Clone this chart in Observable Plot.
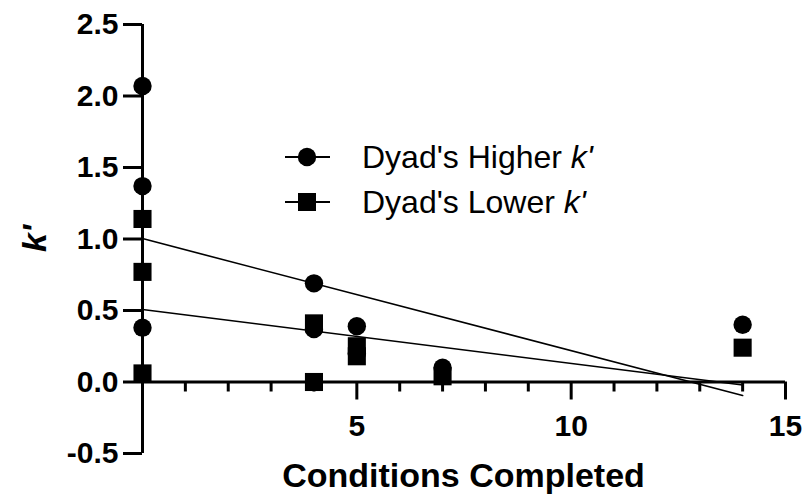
<!DOCTYPE html>
<html>
<head>
<meta charset="utf-8">
<script src="https://cdn.jsdelivr.net/npm/d3@7"></script>
<script src="https://cdn.jsdelivr.net/npm/@observablehq/plot@0.6"></script>
<style>
  html, body { margin: 0; padding: 0; background: #fff; }
  #chart svg { display: block; }
</style>
</head>
<body>
<div id="chart"></div>
<script>
// ---- data ----
const xHigher = [0, 0, 0, 4, 4, 5, 5, 7, 14];
const yHigher = [2.07, 1.37, 0.38, 0.69, 0.37, 0.39, 0.20, 0.10, 0.40];
const xLower  = [0, 0, 0, 4, 4, 5, 5, 7, 14];
const yLower  = [1.14, 0.77, 0.06, 0.41, 0.00, 0.25, 0.18, 0.04, 0.24];

const yTicks = [-0.5, 0, 0.5, 1, 1.5, 2, 2.5];
const xMinorTicks = [1, 2, 3, 4, 6, 7, 8, 9, 11, 12, 13, 14];
const xMajorTicks = [5, 10, 15];

const seriesNames = ["Dyad's Higher", "Dyad's Lower"];
const xTitle = "Conditions Completed";
const yTitle = "k'";

// ---- layout ----
const W = 806, H = 500;
const mL = 142, mR = 21, mT = 24, mB = 47;
const xDomain = [0, 15], yDomain = [-0.5, 2.5];
const pxPerX = (W - mL - mR) / (xDomain[1] - xDomain[0]);
const pxPerY = (H - mT - mB) / (yDomain[1] - yDomain[0]);
const FONT = "'Liberation Sans', Arial, Helvetica, sans-serif";

const higher = xHigher.map((x, i) => ({x, y: yHigher[i]}));
const lower = xLower.map((x, i) => ({x, y: yLower[i]}));

const plot = Plot.plot({
  width: W,
  height: H,
  marginLeft: mL,
  marginRight: mR,
  marginTop: mT,
  marginBottom: mB,
  x: {domain: xDomain, axis: null},
  y: {domain: yDomain, axis: null},
  style: {fontFamily: FONT, fontSize: "30px", fontWeight: "bold", color: "black", background: "white", overflow: "visible"},
  marks: [
    // regression lines
    Plot.linearRegressionY(higher, {x: "x", y: "y", ci: 0, stroke: "black", strokeWidth: 1.6}),
    Plot.linearRegressionY(lower, {x: "x", y: "y", ci: 0, stroke: "black", strokeWidth: 1.6}),
    // y axis
    Plot.ruleX([0], {y1: yDomain[0], y2: yDomain[1], stroke: "black", strokeWidth: 3}),
    Plot.ruleY(yTicks, {y: d => d, x1: 0, x2: -19 / pxPerX, stroke: "black", strokeWidth: 3}),
    Plot.text(yTicks, {y: d => d, x: 0, dx: -24, textAnchor: "end", text: d => d.toFixed(1),
      fontSize: 30, fontWeight: "bold", fill: "black"}),
    // x axis at y = 0
    Plot.ruleY([0], {x1: xDomain[0], x2: xDomain[1], stroke: "black", strokeWidth: 3}),
    Plot.ruleX(xMinorTicks, {x: d => d, y1: 0, y2: -10 / pxPerY, stroke: "black", strokeWidth: 3}),
    Plot.ruleX(xMajorTicks, {x: d => d, y1: 0, y2: -18 / pxPerY, stroke: "black", strokeWidth: 3}),
    Plot.text(xMajorTicks, {x: d => d, y: 0, dy: 44, text: d => String(d),
      fontSize: 30, fontWeight: "bold", fill: "black"}),
    // points
    Plot.dot(higher, {x: "x", y: "y", symbol: "circle", r: 9.2, fill: "black", stroke: "none"}),
    Plot.dot(lower, {x: "x", y: "y", symbol: "square", r: 10.2, fill: "black", stroke: "none"})
  ]
});

document.getElementById("chart").appendChild(plot);

// ---- titles and legend drawn into the same SVG ----
const svg = d3.select(plot);

svg.append("text")
  .attr("x", mL + (W - mL - mR) / 2)
  .attr("y", 487)
  .attr("text-anchor", "middle")
  .style("font-family", FONT)
  .style("font-size", "34px")
  .style("font-weight", "bold")
  .attr("fill", "black")
  .text(xTitle);

svg.append("text")
  .attr("transform", `translate(${46},${mT + (H - mT - mB) / 2}) rotate(-90)`)
  .attr("text-anchor", "middle")
  .style("font-family", FONT)
  .style("font-size", "34px")
  .style("font-weight", "bold")
  .style("font-style", "italic")
  .attr("fill", "black")
  .text(yTitle);

const legend = svg.append("g").attr("transform", `translate(${mL + 165},${mT + 133})`);
seriesNames.forEach((name, i) => {
  const g = legend.append("g").attr("transform", `translate(0,${i * 45})`);
  g.append("line").attr("x1", -22).attr("x2", 23).attr("y1", 0).attr("y2", 0)
    .attr("stroke", "black").attr("stroke-width", 2);
  if (i === 0) {
    g.append("circle").attr("r", 9.2).attr("fill", "black");
  } else {
    g.append("rect").attr("x", -9).attr("y", -9).attr("width", 18).attr("height", 18).attr("fill", "black");
  }
  const t = g.append("text")
    .attr("x", 55)
    .attr("y", 11)
    .attr("text-anchor", "start")
    .style("font-family", FONT)
    .style("font-size", "32px")
    .style("font-weight", "normal")
    .attr("fill", "black");
  t.append("tspan").text(name + " ");
  t.append("tspan").style("font-style", "italic").text("k'");
});
</script>
</body>
</html>
